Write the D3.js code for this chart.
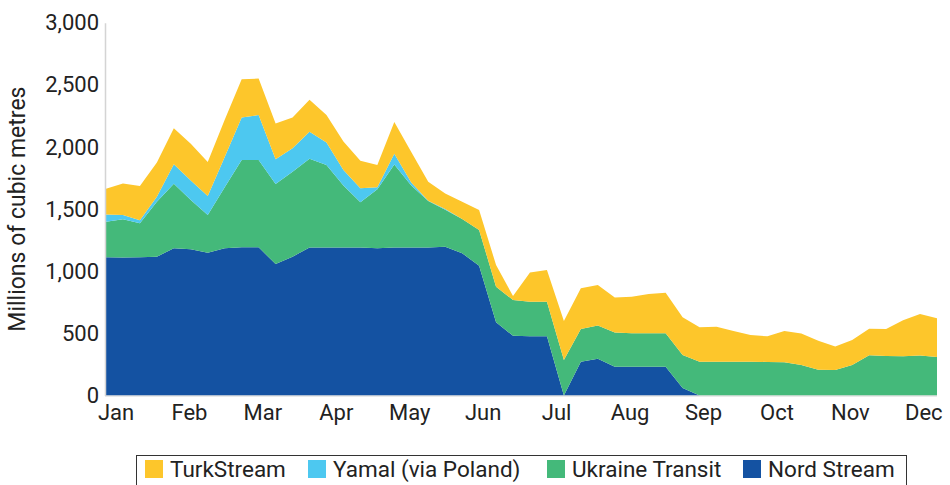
<!DOCTYPE html>
<html>
<head>
<meta charset="utf-8">
<script src="https://cdn.jsdelivr.net/npm/d3@7"></script>
<style>
  body { margin: 0; background: #fff; }
  svg { display: block; font-family: Roboto, "Noto Sans", sans-serif; }
</style>
</head>
<body>
<script>
// weekly flows, millions of cubic metres
const months = ["Jan", "Feb", "Mar", "Apr", "May", "Jun", "Jul", "Aug", "Sep", "Oct", "Nov", "Dec"];
const yTicks = [0, 500, 1000, 1500, 2000, 2500, 3000];

const nordStream = [1112, 1110, 1112, 1117, 1184, 1177, 1149, 1184, 1192, 1192,
  1058, 1117, 1190, 1190, 1190, 1190, 1185, 1190, 1190, 1190,
  1197, 1145, 1045, 590, 480, 476, 476, 0, 272, 295,
  232, 232, 232, 232, 60, 0, 0, 0, 0, 0,
  0, 0, 0, 0, 0, 0, 0, 0, 0, 0];
const ukraineTransit = [287, 308, 274, 443, 521, 396, 303, 491, 703, 703,
  644, 684, 716, 665, 500, 365, 475, 668, 500, 375,
  298, 275, 287, 286, 288, 279, 279, 286, 263, 268,
  274, 268, 268, 268, 266, 272, 272, 272, 272, 270,
  268, 245, 208, 205, 245, 323, 318, 315, 322, 310];
const yamal = [58, 34, 24, 40, 155, 157, 153, 245, 343, 362,
  199, 188, 217, 180, 125, 112, 15, 88, 25, 3,
  5, 0, 0, 0, 0, 0, 0, 0, 0, 0,
  0, 0, 0, 0, 0, 0, 0, 0, 0, 0,
  0, 0, 0, 0, 0, 0, 0, 0, 0, 0];
const turkStream = [207, 254, 276, 275, 290, 295, 275, 300, 307, 293,
  287, 248, 257, 222, 230, 223, 180, 254, 245, 152,
  125, 140, 161, 174, 32, 235, 255, 314, 328, 326,
  282, 295, 317, 327, 303, 277, 282, 247, 215, 206,
  252, 253, 232, 190, 202, 214, 218, 290, 334, 311];

const keys = ["Nord Stream", "Ukraine Transit", "Yamal (via Poland)", "TurkStream"];
const colors = {
  "TurkStream": "#fdc62b",
  "Yamal (via Poland)": "#4dc8f0",
  "Ukraine Transit": "#44b97a",
  "Nord Stream": "#1452a2"
};
const legendOrder = ["TurkStream", "Yamal (via Poland)", "Ukraine Transit", "Nord Stream"];

const width = 950, height = 485;
const margin = {left: 106, top: 22.7, right: 13, bottom: 89.5};

const rows = nordStream.map((d, i) => ({
  week: i,
  "Nord Stream": d,
  "Ukraine Transit": ukraineTransit[i],
  "Yamal (via Poland)": yamal[i],
  "TurkStream": turkStream[i]
}));

const svg = d3.select("body").append("svg")
  .attr("width", width)
  .attr("height", height);

const x = d3.scaleLinear()
  .domain([0, rows.length - 1])
  .range([margin.left, width - margin.right]);

const y = d3.scaleLinear()
  .domain([0, 3000])
  .range([height - margin.bottom, margin.top]);

// month labels are evenly spaced under the weeks
const xMonth = d3.scalePoint()
  .domain(months)
  .range([115.5, 923.3]);

const series = d3.stack().keys(keys)(rows);

const area = d3.area()
  .x(d => x(d.data.week))
  .y0(d => y(d[0]))
  .y1(d => y(d[1]));

svg.append("g")
  .selectAll("path")
  .data(series)
  .join("path")
  .attr("fill", d => colors[d.key])
  .attr("d", area);

// axes
const yAxis = svg.append("g")
  .attr("transform", `translate(${margin.left - 1},0)`)
  .call(d3.axisLeft(y).tickValues(yTicks).tickSize(0).tickPadding(6).tickFormat(d3.format(",")));
yAxis.select(".domain").attr("stroke", "#d4d4d4").attr("stroke-width", 1.5);
yAxis.selectAll("text").attr("font-size", 22).attr("fill", "#222").attr("font-family", "Roboto");

const xAxis = svg.append("g")
  .attr("transform", `translate(0,${height - margin.bottom})`)
  .call(d3.axisBottom(xMonth).tickSize(0).tickPadding(9));
xAxis.select(".domain").remove();
xAxis.selectAll("text").attr("font-size", 22).attr("fill", "#222").attr("font-family", "Roboto");

svg.append("line")
  .attr("x1", margin.left - 1).attr("x2", width - margin.right)
  .attr("y1", y(0) + 0.5).attr("y2", y(0) + 0.5)
  .attr("stroke", "#d4d4d4").attr("stroke-width", 1);

svg.append("text")
  .attr("transform", `translate(25,${(y(0) + y(3000)) / 2}) rotate(-90)`)
  .attr("text-anchor", "middle")
  .attr("font-size", 23)
  .attr("fill", "#222")
  .text("Millions of cubic metres");

// legend
const legend = svg.append("g");
legend.append("rect")
  .attr("x", 136.5).attr("y", 455.5)
  .attr("width", 770).attr("height", 40)
  .attr("fill", "none")
  .attr("stroke", "#333");

const legendX = [145, 308, 547, 743];
const item = legend.selectAll("g.item")
  .data(legendOrder)
  .join("g")
  .attr("class", "item")
  .attr("transform", (d, i) => `translate(${legendX[i]},460)`);
item.append("rect")
  .attr("width", 18).attr("height", 18)
  .attr("fill", d => colors[d]);
item.append("text")
  .attr("x", 25).attr("y", 17)
  .attr("font-size", 22.5)
  .attr("fill", "#222")
  .text(d => d);
</script>
</body>
</html>
